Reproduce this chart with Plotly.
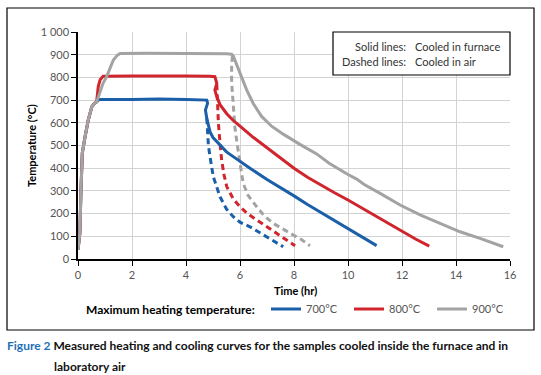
import plotly.graph_objects as go

# ---- data (time in hr, temperature in °C) ----
heat_t = [0.0, 0.07, 0.11, 0.16, 0.26, 0.38, 0.51, 0.60, 0.69]
heat_T = [40, 115, 304, 467, 537, 612, 670, 685, 692]

blue_solid_t = heat_t + [0.78, 2.0, 3.0, 4.0, 4.6, 4.77, 4.80, 4.72, 4.77, 4.89, 5.0, 5.26, 5.5, 5.75, 6.0, 6.37, 7.0, 7.5, 8.0, 8.5, 9.0, 9.5, 10.0, 10.5, 11.06]
blue_solid_T = heat_T + [703, 703, 705, 703, 702, 700, 686, 656, 620, 560, 535, 500, 472, 451, 432, 400, 350, 315, 278, 240, 205, 172, 137, 100, 59]
blue_dash_t = [4.77, 4.80, 4.83, 4.89, 4.95, 5.01, 5.26, 5.5, 5.75, 6.0, 6.37, 6.99, 7.6]
blue_dash_T = [620, 560, 500, 450, 407, 363, 274, 220, 186, 162, 142, 98, 54]

red_solid_t = heat_t + [0.75, 0.82, 0.93, 2.0, 3.0, 4.0, 4.9, 5.07, 5.14, 5.07, 5.14, 5.26, 5.51, 5.75, 6.0, 6.5, 7.0, 7.5, 8.0, 8.5, 9.0, 9.5, 10.0, 10.5, 11.0, 11.5, 12.0, 12.5, 13.01]
red_solid_T = heat_T + [760, 790, 805, 806, 807, 806, 805, 803, 774, 744, 715, 680, 640, 610, 585, 535, 490, 445, 400, 360, 325, 292, 260, 225, 190, 155, 120, 88, 57]
red_dash_t = [5.14, 5.17, 5.2, 5.26, 5.32, 5.41, 5.51, 5.75, 6.0, 6.3, 6.62, 7.0, 7.36, 7.7, 8.04]
red_dash_T = [770, 680, 598, 510, 436, 370, 319, 265, 230, 198, 172, 140, 113, 86, 58]

gray_solid_t = heat_t + [0.93, 1.05, 1.19, 1.31, 1.45, 1.56, 2.5, 3.5, 4.5, 5.5, 5.69, 5.75, 5.88, 6.06, 6.25, 6.49, 6.8, 7.17, 7.6, 8.22, 8.84, 9.3, 9.7, 10.0, 10.32, 10.6, 11.19, 11.93, 12.67, 13.41, 14.15, 14.89, 15.75]
gray_solid_T = heat_T + [775, 800, 846, 877, 897, 905, 906, 906, 905, 904, 902, 895, 855, 803, 744, 685, 628, 585, 550, 505, 463, 422, 392, 372, 352, 328, 289, 238, 194, 157, 120, 91, 54]
gray_dash_t = [5.72, 5.69, 5.69, 5.72, 5.75, 5.81, 5.88, 5.94, 6.03, 6.12, 6.3, 6.62, 6.9, 7.23, 7.6, 7.97, 8.3, 8.59]
gray_dash_T = [895, 850, 780, 720, 660, 580, 520, 466, 400, 333, 280, 230, 190, 157, 130, 106, 84, 58]

series_names = ["700°C", "800°C", "900°C"]
colors = ["#1a5fa8", "#d0252d", "#a3a3a3"]

x_ticks = list(range(0, 17, 2))
y_ticks = list(range(0, 1001, 100))
y_ticklabels = ["0", "100", "200", "300", "400", "500", "600", "700", "800", "900", "1 000"]

# ---- figure ----
fig = go.Figure()
solids = [(blue_solid_t, blue_solid_T), (red_solid_t, red_solid_T), (gray_solid_t, gray_solid_T)]
dashes = [(blue_dash_t, blue_dash_T), (red_dash_t, red_dash_T), (gray_dash_t, gray_dash_T)]

for (t, T), name, c in zip(dashes, series_names, colors):
    fig.add_trace(go.Scatter(x=t, y=T, mode="lines", showlegend=False,
                             line=dict(color=c, width=3, dash="6px,4px"), hoverinfo="skip"))
for (t, T), name, c in zip(solids, series_names, colors):
    fig.add_trace(go.Scatter(x=t, y=T, mode="lines", name=name,
                             line=dict(color=c, width=3)))

FONT = "Lato, 'Noto Sans', sans-serif"
W, H = 541, 375
L, R, T_, B = 78, 31, 32, 116
pw, ph = W - L - R, H - T_ - B

def px(x):
    return (x - L) / pw

def py(y):
    return (H - B - y) / ph

fig.update_layout(
    width=W, height=H,
    margin=dict(l=L, r=R, t=T_, b=B, pad=0),
    paper_bgcolor="white", plot_bgcolor="white",
    font=dict(family=FONT, size=11, color="#555555"),
    xaxis=dict(range=[0, 16], tickvals=x_ticks, showgrid=True, gridcolor="#d3d3d3", gridwidth=1,
               showline=True, linecolor="black", linewidth=1.5, ticks="outside", ticklen=5,
               tickcolor="black", zeroline=False, tickfont=dict(size=11, color="#555555")),
    yaxis=dict(range=[0, 1000], tickvals=y_ticks, ticktext=y_ticklabels, showgrid=True,
               gridcolor="#d3d3d3", gridwidth=1, showline=True, linecolor="black", linewidth=1.5,
               ticks="outside", ticklen=5, tickcolor="black", zeroline=False,
               tickfont=dict(size=11, color="#555555")),
    legend=dict(orientation="h", x=px(266), xanchor="left", y=py(309), yanchor="middle",
                bgcolor="rgba(0,0,0,0)", font=dict(size=11, color="#555555"),
                entrywidth=38, entrywidthmode="pixels", itemwidth=30),
    showlegend=True,
)

# outer frame
fig.add_shape(type="rect", xref="paper", yref="paper", x0=px(7), x1=px(534), y0=py(330), y1=py(8),
              line=dict(color="black", width=1.2), fillcolor="rgba(0,0,0,0)", layer="below")
# key box
fig.add_shape(type="rect", xref="paper", yref="paper", x0=px(333), x1=1.0, y0=py(75), y1=1.0,
              line=dict(color="black", width=1.2), fillcolor="white", layer="above")

def add(text, x, y, xa="left", ya="middle", size=11, color="#333333", angle=0, family=FONT):
    fig.add_annotation(text=text, xref="paper", yref="paper", x=x, y=y, xanchor=xa, yanchor=ya,
                       showarrow=False, textangle=angle, font=dict(size=size, color=color, family=family))

add("Solid lines:", px(408), py(47), xa="right")
add("Cooled in furnace", px(413), py(47))
add("Dashed lines:", px(408), py(61), xa="right")
add("Cooled in air", px(413), py(61))

add("<b>Temperature (°C)</b>", px(31), py(146), xa="center", angle=-90, color="black")
add("<b>Time (hr)</b>", px(295.5), py(290), xa="center", color="black")
add("<b>Maximum heating temperature:</b>", px(84), py(309), size=12, color="black")

CAP = "Lato, 'Noto Sans', sans-serif"
add("<b><span style='color:#1f70b8'>Figure 2</span> Measured heating and cooling curves for the samples cooled inside the furnace and in</b>",
    px(5), py(345), size=12, color="#111111", family=CAP)
add("<b>laboratory air</b>", px(52), py(366), size=12, color="#111111", family=CAP)

fig.write_html("out.html", config={"displayModeBar": False},
               post_script="document.body.style.margin='0';")
